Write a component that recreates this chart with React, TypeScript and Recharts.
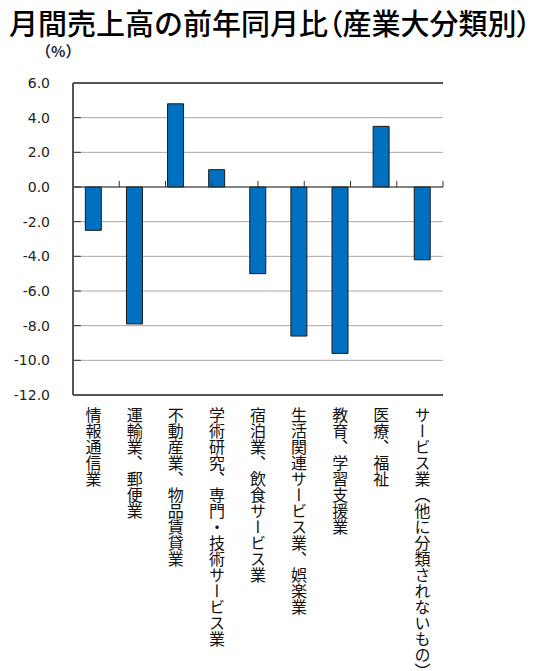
import React from "react"
import { BarChart, Bar, XAxis, YAxis, CartesianGrid, ReferenceLine } from "recharts"

const industries = [
  "情報通信業",
  "運輸業、郵便業",
  "不動産業、物品賃貸業",
  "学術研究、専門・技術サービス業",
  "宿泊業、飲食サービス業",
  "生活関連サービス業、娯楽業",
  "教育、学習支援業",
  "医療、福祉",
  "サービス業（他に分類されないもの）",
]
const yoyChange = [-2.5, -7.9, 4.8, 1.0, -5.0, -8.6, -9.6, 3.5, -4.2]
const yTicks = [6, 4, 2, 0, -2, -4, -6, -8, -10, -12]
// boundaries between categories, marked on the zero line
const boundaries = [1, 2, 3, 4, 5, 6, 7, 8]

const data = industries.map((name, i) => ({ name, value: yoyChange[i] }))

const CJK = "'Noto Sans CJK JP', 'Noto Sans', sans-serif"
const palt = { fontFeatureSettings: '"palt"' }

function VerticalTick(props: any) {
  const { x, y, payload } = props
  return (
    <text
      x={x}
      y={y}
      fill="#111"
      fontSize={16}
      fontFamily={CJK}
      style={{ writingMode: "vertical-rl" }}
    >
      {payload.value}
    </text>
  )
}

export default function App() {
  return (
    <div style={{ position: "absolute", left: 0, top: 0, width: 539, height: 671, background: "#fff" }}>
      <div
        style={{
          position: "absolute",
          left: 9,
          top: 6,
          fontFamily: CJK,
          fontSize: 29,
          fontWeight: 500,
          color: "#000",
          whiteSpace: "nowrap",
          lineHeight: "32px",
        }}
      >
        月間売上高の前年同月比<span style={palt}>（</span>産業大分類別<span style={palt}>）</span>
      </div>
      <div
        style={{
          position: "absolute",
          left: 36,
          top: 42,
          fontFamily: CJK,
          fontSize: 15,
          fontWeight: 700,
          color: "#1f2a44",
          lineHeight: "18px",
        }}
      >
        （%）
      </div>
      <BarChart
        width={539}
        height={671}
        data={data}
        margin={{ top: 83, right: 96, bottom: 0, left: 0 }}
        barCategoryGap="30%"
      >
        <CartesianGrid vertical={false} stroke="#a6a6a6" strokeWidth={1} />
        <XAxis
          dataKey="name"
          axisLine={false}
          tickLine={false}
          interval={0}
          height={276}
          tickSize={0}
          tickMargin={12}
          tick={<VerticalTick />}
        />
        <XAxis xAxisId="grid" type="number" domain={[0, 9]} hide />
        <YAxis
          domain={[-12, 6]}
          ticks={yTicks}
          interval={0}
          width={73}
          axisLine={false}
          tickLine={false}
          tickSize={6}
          tickMargin={17}
          tickFormatter={(v: number) => v.toFixed(1)}
          tick={{ fill: "#222", fontSize: 14, fontFamily: "'DejaVu Sans', sans-serif" }}
        />
        {/* short inward ticks on the left edge */}
        {yTicks.map((t) => (
          <ReferenceLine
            key={`yt${t}`}
            xAxisId="grid"
            segment={[
              { x: 0, y: t },
              { x: 0.17, y: t },
            ]}
            stroke="#333"
            strokeWidth={1}
          />
        ))}
        <ReferenceLine y={0} stroke="#333" strokeWidth={1} />
        {boundaries.map((b) => (
          <ReferenceLine
            key={b}
            xAxisId="grid"
            segment={[
              { x: b, y: 0 },
              { x: b, y: 0.35 },
            ]}
            stroke="#333"
            strokeWidth={1}
          />
        ))}
        <Bar
          dataKey="value"
          fill="#0070c0"
          stroke="#1a1a1a"
          strokeWidth={1}
          isAnimationActive={false}
        />
        {/* plot frame */}
        <ReferenceLine y={6} stroke="#555" strokeWidth={2} />
        <ReferenceLine y={-12} stroke="#555" strokeWidth={2} />
        <ReferenceLine xAxisId="grid" x={0} stroke="#555" strokeWidth={2} />
        <ReferenceLine xAxisId="grid" x={9} stroke="#555" strokeWidth={2} />
      </BarChart>
    </div>
  )
}
